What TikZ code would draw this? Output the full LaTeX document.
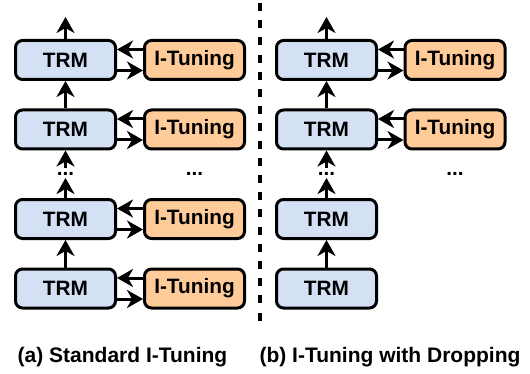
\documentclass[tikz,border=0pt]{standalone}
\usepackage{fontspec}
\setmainfont{Liberation Sans}
\usetikzlibrary{arrows.meta}
\definecolor{trmblue}{HTML}{D4E1F5}
\definecolor{itorange}{HTML}{FFCC99}
\begin{document}
\begin{tikzpicture}[x=0.5pt,y=-0.5pt,
 box/.style={draw=black, line width=1.5pt, rounded corners=3.5pt, minimum width=50pt, minimum height=19.5pt, inner sep=0pt, font=\fontsize{10.4}{12}\selectfont\bfseries},
 trm/.style={box, fill=trmblue},
 itb/.style={box, fill=itorange},
 arr/.style={line width=1.5pt, -{Stealth[length=8pt,width=9pt,inset=2.5pt]}},
 dotlabel/.style={font=\fontsize{10.3}{12}\selectfont\bfseries, inner sep=0pt, anchor=base},
 captionlabel/.style={font=\fontsize{10.5}{12}\selectfont\bfseries, inner sep=0pt, anchor=base},
 sepline/.style={line width=2pt, dash pattern=on 4pt off 4.6pt}]
\useasboundingbox (0,0) rectangle (530,374);
% left column
\node[trm] (a1) at (65.5,60) {TRM};
\node[trm] (a2) at (65.5,129.5) {TRM};
\node[trm] (a3) at (65.5,219) {TRM};
\node[trm] (a4) at (65.5,288.5) {TRM};
\node[itb] (ai1) at (194.5,60) {I-Tuning};
\node[itb] (ai2) at (194.5,129.5) {I-Tuning};
\node[itb] (ai3) at (194.5,219) {I-Tuning};
\node[itb] (ai4) at (194.5,288.5) {I-Tuning};
\coordinate (atop) at (65.5,17);
\coordinate (ad1) at (65.5,168);
\coordinate (ad2) at (65.5,178);
\node[dotlabel] (ad) at (65.5,176) {...};
\node[dotlabel] (aid) at (194.5,176) {...};
\draw[arr] (a1.north) -- (atop);
\draw[arr] (a2.north) -- (a1.south);
\draw[arr] (ad1) -- (a2.south);
\draw[arr] (a3.north) -- (ad2);
\draw[arr] (a4.north) -- (a3.south);
\foreach \i in {1,2,3,4}{
  \draw[arr] ([yshift=5.25pt]ai\i.west) -- ([yshift=5.25pt]a\i.east);
  \draw[arr] ([yshift=-5.25pt]a\i.east) -- ([yshift=-5.25pt]ai\i.west);
}
% right column
\node[trm] (b1) at (326.5,60) {TRM};
\node[trm] (b2) at (326.5,129.5) {TRM};
\node[trm] (b3) at (326.5,219) {TRM};
\node[trm] (b4) at (326.5,288.5) {TRM};
\node[itb] (bi1) at (455,60) {I-Tuning};
\node[itb] (bi2) at (455,129.5) {I-Tuning};
\coordinate (btop) at (326.5,17);
\coordinate (bd1) at (326.5,168);
\coordinate (bd2) at (326.5,178);
\node[dotlabel] (bd) at (326.5,176) {...};
\node[dotlabel] (bid) at (455,176) {...};
\draw[arr] (b1.north) -- (btop);
\draw[arr] (b2.north) -- (b1.south);
\draw[arr] (bd1) -- (b2.south);
\draw[arr] (b3.north) -- (bd2);
\draw[arr] (b4.north) -- (b3.south);
\foreach \i in {1,2}{
  \draw[arr] ([yshift=5.25pt]bi\i.west) -- ([yshift=5.25pt]b\i.east);
  \draw[arr] ([yshift=-5.25pt]b\i.east) -- ([yshift=-5.25pt]bi\i.west);
}
% separator
\coordinate (d1) at (260,3);
\coordinate (d2) at (260,321);
\draw[sepline] (d1) -- (d2);
% captions
\node[captionlabel] (la) at (122.5,362) {(a) Standard I-Tuning};
\node[captionlabel] (lb) at (390,362) {(b) I-Tuning with Dropping};
\end{tikzpicture}
\end{document}
